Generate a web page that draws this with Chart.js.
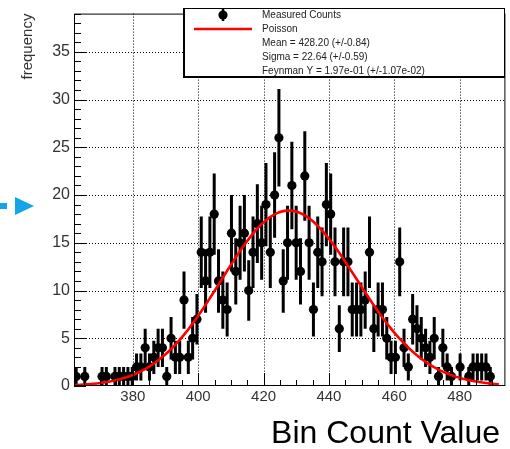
<!DOCTYPE html>
<html>
<head>
<meta charset="utf-8">
<script src="https://cdn.jsdelivr.net/npm/chart.js@4/dist/chart.umd.min.js"></script>
<style>
  html, body { margin: 0; padding: 0; background: #fff; }
  canvas { display: block; }
</style>
</head>
<body>
<canvas id="c" width="510" height="449"></canvas>
<script>
// Histogram binning (100 bins over the axis range)
const histMin = 362;
const histMax = 494;
const nBins = 100;

// Entries per bin, left to right
const counts = [
  1, 0, 1, 0, 0, 0, 1, 1, 0, 1,
  1, 1, 1, 1, 2, 2, 4, 2, 3, 4,
  4, 1, 5, 3, 3, 9, 3, 5, 7, 14,
  11, 14, 18, 11, 9, 8, 16, 12, 15, 16,
  10, 14, 17, 15, 19, 14, 20, 26, 11, 15,
  21, 15, 12, 22, 15, 8, 14, 13, 19, 18,
  13, 6, 13, 13, 8, 8, 8, 9, 14, 6,
  8, 8, 5, 3, 3, 13, 4, 2, 7, 6,
  5, 4, 3, 5, 1, 4, 2, 1, 0, 2,
  0, 1, 2, 2, 2, 2, 1, 0, 0, 0
];

// Axis ticks
const xTickValues = [380, 400, 420, 440, 460, 480];
const yTickValues = [0, 5, 10, 15, 20, 25, 30, 35];
const yMax = 39;
const xTitle = 'Bin Count Value';

// Fit result
const fitMean = 428.20;
const fitRange = [362, 492];
const legendLabels = [
  'Measured Counts',
  'Poisson',
  'Mean = 428.20 (+/-0.84)',
  'Sigma = 22.64 (+/-0.59)',
  'Feynman Y = 1.97e-01 (+/-1.07e-02)'
];

const FONT = '"Liberation Sans", Arial, Helvetica, sans-serif';

// Bin centres and the points that carry entries
const binWidth = (histMax - histMin) / nBins;
const points = [];
counts.forEach((n, i) => {
  if (n > 0) points.push({ x: histMin + binWidth * (i + 0.5), y: n });
});
const total = counts.reduce((s, n) => s + n, 0);

// Poisson density with continuous argument, normalised to the histogram
function lnGamma1(z) { // ln Γ(z+1), Stirling series (z is large here)
  return z * Math.log(z) - z + 0.5 * Math.log(2 * Math.PI * z) + 1 / (12 * z) - 1 / (360 * z * z * z);
}
function poisson(x, lambda) {
  return Math.exp(x * Math.log(lambda) - lambda - lnGamma1(x));
}
const fitCurve = [];
for (let xv = fitRange[0]; xv <= fitRange[1] + 1e-9; xv += 1) {
  fitCurve.push({ x: xv, y: total * binWidth * poisson(xv, fitMean) });
}

function seg(ctx, x1, y1, x2, y2) {
  ctx.beginPath(); ctx.moveTo(x1, y1); ctx.lineTo(x2, y2); ctx.stroke();
}

const rootStyle = {
  id: 'rootStyle',
  beforeDatasetsDraw(chart) {
    const { ctx, chartArea: a, scales: { x, y } } = chart;
    ctx.save();
    // dotted grid
    ctx.strokeStyle = '#000';
    ctx.lineWidth = 1;
    ctx.setLineDash([1, 2]);
    xTickValues.forEach(v => {
      const px = Math.round(x.getPixelForValue(v)) + 0.5;
      seg(ctx, px, a.top, px, a.bottom);
    });
    yTickValues.forEach(v => {
      if (v === 0) return;
      const py = Math.round(y.getPixelForValue(v)) + 0.5;
      seg(ctx, a.left, py, a.right, py);
    });
    ctx.setLineDash([]);
    // statistical error bars
    ctx.beginPath();
    ctx.rect(a.left, a.top, a.right - a.left, a.bottom - a.top);
    ctx.clip();
    ctx.lineWidth = 3;
    points.forEach(p => {
      const e = Math.sqrt(p.y);
      const px = x.getPixelForValue(p.x);
      seg(ctx, px, y.getPixelForValue(Math.max(0, p.y - e)), px, y.getPixelForValue(p.y + e));
    });
    ctx.restore();
  },
  afterDatasetsDraw(chart) {
    const { ctx, chartArea: a, scales: { x, y } } = chart;
    ctx.save();
    ctx.strokeStyle = '#000';
    ctx.lineWidth = 1;
    // frame
    ctx.strokeRect(a.left + 0.5, a.top + 0.5, a.right - a.left - 1, a.bottom - a.top - 1);
    // y ticks: major every 5, minor every 1
    for (let v = 0; v <= yMax; v += 1) {
      const py = Math.round(y.getPixelForValue(v)) + 0.5;
      const len = v % 5 === 0 ? 12 : 7;
      seg(ctx, a.left, py, a.left + len, py);
    }
    // x ticks: major every 20, minor every 5
    for (let v = 365; v <= histMax; v += 5) {
      const px = Math.round(x.getPixelForValue(v)) + 0.5;
      const len = v % 20 === 0 ? 13 : 6;
      seg(ctx, px, a.bottom, px, a.bottom - len);
    }
    ctx.restore();
  },
  afterDraw(chart) {
    const { ctx } = chart;
    ctx.save();
    // x axis title, right aligned under the axis
    ctx.fillStyle = '#000';
    ctx.font = '32px ' + FONT;
    ctx.textAlign = 'right';
    ctx.textBaseline = 'alphabetic';
    ctx.fillText(xTitle, 500, 443);
    // legend box
    const L = 183, T = 8, R = 505, B = 78;
    ctx.fillStyle = '#fff';
    ctx.fillRect(L, T, R - L, B - T);
    ctx.strokeStyle = '#000';
    ctx.lineWidth = 1;
    ctx.strokeRect(L + 0.5, T + 0.5, R - L - 1, B - T - 1);
    ctx.lineWidth = 2;
    seg(ctx, L + 1, T, L + 1, B);
    seg(ctx, L, B - 1, R, B - 1);
    const rowY = [15, 29, 43, 57, 71];
    // marker entry
    ctx.lineWidth = 2.5;
    seg(ctx, 223, rowY[0] - 6, 223, rowY[0] + 6);
    ctx.fillStyle = '#000';
    ctx.beginPath(); ctx.arc(223, rowY[0], 4.6, 0, Math.PI * 2); ctx.fill();
    // line entry
    ctx.strokeStyle = '#ff0000';
    ctx.lineWidth = 2.5;
    seg(ctx, 194, rowY[1], 252, rowY[1]);
    // texts
    ctx.fillStyle = '#222';
    ctx.font = '10px ' + FONT;
    ctx.textBaseline = 'middle';
    ctx.textAlign = 'left';
    legendLabels.forEach((t, i) => ctx.fillText(t, 262, rowY[i]));
    // blue pointer on the left
    ctx.fillStyle = '#14a5e6';
    ctx.fillRect(0, 203, 7, 6);
    ctx.beginPath();
    ctx.moveTo(15, 197); ctx.lineTo(34, 206); ctx.lineTo(15, 215); ctx.closePath();
    ctx.fill();
    ctx.restore();
  }
};

new Chart(document.getElementById('c'), {
  type: 'scatter',
  data: {
    datasets: [
      {
        label: legendLabels[0],
        data: points,
        pointRadius: 4.6,
        pointHoverRadius: 4.6,
        pointBackgroundColor: '#000',
        pointBorderColor: '#000',
        pointBorderWidth: 0,
        showLine: false,
        order: 2
      },
      {
        type: 'line',
        label: legendLabels[1],
        data: fitCurve,
        borderColor: '#ff0000',
        borderWidth: 2.6,
        pointRadius: 0,
        fill: false,
        tension: 0,
        order: 1
      }
    ]
  },
  options: {
    responsive: false,
    animation: false,
    devicePixelRatio: 1,
    layout: { padding: { left: 0, top: 8, right: 4, bottom: 0 } },
    plugins: { legend: { display: false }, tooltip: { enabled: false } },
    scales: {
      x: {
        type: 'linear',
        position: 'bottom',
        min: histMin,
        max: histMax,
        afterBuildTicks: s => { s.ticks = xTickValues.map(v => ({ value: v })); },
        afterFit: s => { s.height = 63; },
        grid: { display: false, drawTicks: false },
        border: { display: false },
        ticks: { color: '#333', font: { family: FONT, size: 15 }, padding: 2, maxRotation: 0, autoSkip: false },
        title: { display: false }
      },
      y: {
        min: 0,
        max: yMax,
        afterBuildTicks: s => { s.ticks = yTickValues.map(v => ({ value: v })); },
        afterFit: s => { s.width = 74; },
        grid: { display: false, drawTicks: false },
        border: { display: false },
        ticks: { color: '#333', font: { family: FONT, size: 16 }, padding: 4, autoSkip: false },
        title: {
          display: true, text: 'frequency', align: 'end', color: '#333',
          font: { family: FONT, size: 15 }, padding: { top: 19, bottom: 0 }
        }
      }
    }
  },
  plugins: [rootStyle]
});
</script>
</body>
</html>
